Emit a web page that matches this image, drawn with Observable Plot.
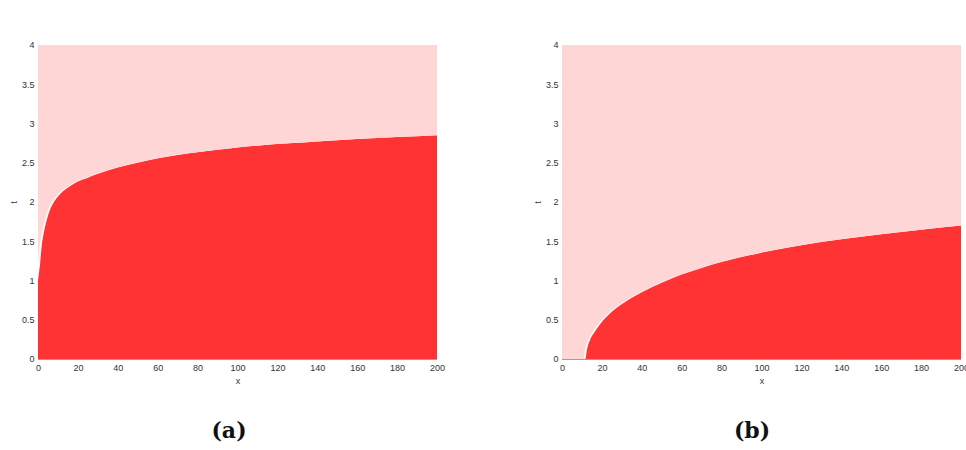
<!DOCTYPE html>
<html>
<head>
<meta charset="utf-8">
<script src="https://cdn.jsdelivr.net/npm/d3@7"></script>
<script src="https://cdn.jsdelivr.net/npm/@observablehq/plot@0.6"></script>
<style>
  body { margin: 0; background: #fff; width: 966px; height: 450px; overflow: hidden; }
  #wrap { position: relative; width: 966px; height: 450px; }
  .panel { position: absolute; top: 0; }
  .cap { position: absolute; top: 419px; font: bold 22px/22px "DejaVu Serif", serif; color: #111; transform: translateX(-50%); }
</style>
</head>
<body>
<div id="wrap">
  <div class="panel" id="pa" style="left:0"></div>
  <div class="panel" id="pb" style="left:483px"></div>
  <div class="cap" style="left:229px">(a)</div>
  <div class="cap" style="left:752px">(b)</div>
</div>
<script>
// Boundary curve t(x) for panel (a)
const xA = [0, 0.3, 0.6, 1, 1.5, 2, 2.7, 3.5, 4.5, 6, 8, 10, 12.7, 16, 20, 25, 29, 35, 40, 50, 61, 70, 80, 90, 100, 110, 126, 140, 160, 180, 200];
const tA = [1.0, 1.06, 1.12, 1.2, 1.35, 1.47, 1.58, 1.68, 1.78, 1.9, 2.0, 2.07, 2.14, 2.2, 2.26, 2.31, 2.35, 2.4, 2.44, 2.5, 2.56, 2.6, 2.635, 2.665, 2.695, 2.718, 2.748, 2.772, 2.802, 2.827, 2.85];

// Boundary curve t(x) for panel (b); zero until the front starts
const xB = [0, 11.7, 12.5, 14, 16, 19, 24, 29, 35, 40, 50, 60, 70, 80, 100, 120, 140, 160, 180, 200];
const tB = [0, 0, 0.12, 0.24, 0.33, 0.44, 0.58, 0.68, 0.78, 0.85, 0.97, 1.075, 1.16, 1.235, 1.355, 1.45, 1.525, 1.59, 1.648, 1.70];

const xTicks = [0, 20, 40, 60, 80, 100, 120, 140, 160, 180, 200];
const tTicks = [0, 0.5, 1, 1.5, 2, 2.5, 3, 3.5, 4];

const DARK = "#ff3333";
const LIGHT = "#ffd6d6";

// The upper region is drawn as its own patch, nudged slightly left of the
// boundary so a thin white seam shows where the boundary is steep.
const SEAM = 1.0;

function panel(xs, ts, marginLeft, marginRight) {
  const data = xs.map((x, i) => ({x, t: ts[i]}));
  return Plot.plot({
    width: 483,
    height: 395,
    marginLeft,
    marginRight,
    marginTop: 45,
    marginBottom: 36,
    style: {fontFamily: "'Liberation Sans', Arial, sans-serif", fontSize: "9px", color: "#333", background: "transparent", overflow: "visible"},
    x: {domain: [0, 200]},
    y: {domain: [0, 4]},
    marks: [
      Plot.areaY(data, {x: "x", y1: 0, y2: "t", fill: DARK, curve: "monotone-x", clip: true}),
      Plot.areaY(data, {x: d => d.x - SEAM * (1 - d.x / 200), y1: "t", y2: 4, fill: LIGHT, curve: "monotone-x", clip: true}),
      Plot.ruleY([0], {stroke: "#888", strokeOpacity: 0.8}),
      Plot.axisX({ticks: xTicks, tickSize: 0, tickPadding: 5, tickFormat: d => String(d),
                  label: "x", labelAnchor: "center", labelArrow: "none", labelOffset: 24}),
      Plot.axisY({ticks: tTicks, tickSize: 0, tickPadding: 4, tickFormat: d => String(d),
                  label: "t", labelAnchor: "center", labelArrow: "none", labelOffset: 28})
    ]
  });
}

document.getElementById("pa").append(panel(xA, tA, 38, 46));
document.getElementById("pb").append(panel(xB, tB, 79, 5));
</script>
</body>
</html>
